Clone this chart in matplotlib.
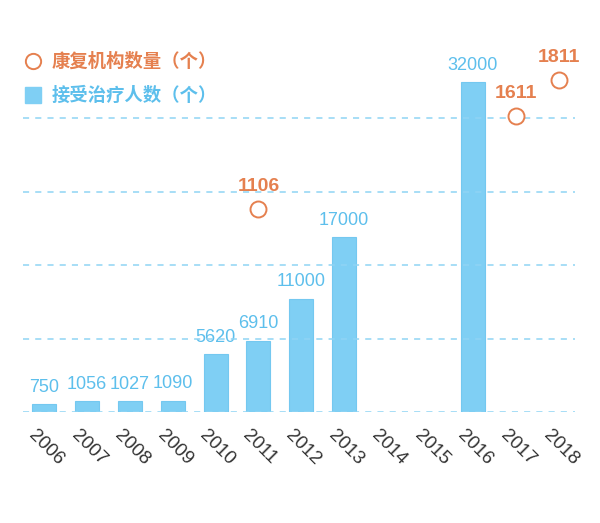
import matplotlib
matplotlib.use("Agg")
import matplotlib.pyplot as plt
from matplotlib.lines import Line2D

plt.rcParams['font.family'] = ['Noto Sans CJK SC', 'DejaVu Sans']

years = ['2006', '2007', '2008', '2009', '2010', '2011', '2012',
         '2013', '2014', '2015', '2016', '2017', '2018']
patients = [750, 1056, 1027, 1090, 5620, 6910, 11000, 17000, None, None, 32000, None, None]
institutions = [None, None, None, None, None, 1106, None, None, None, None, None, 1611, 1811]
grid_levels = [0, 400, 800, 1200, 1600]

BLUE = '#7FCFF4'
BLUE_TXT = '#5DBFEC'
ORANGE = '#E5804F'
GRID = '#8FD4F4'

W, H = 600, 523
fig = plt.figure(figsize=(W / 100, H / 100), dpi=100)
left_px, right_px, base_px, top_px = 23, 575, 412, 30
ax = fig.add_axes([left_px / W, (H - base_px) / H, (right_px - left_px) / W, (base_px - top_px) / H])
ax2 = ax.twinx()

bar_scale = 0.0103   # px per patient
circ_scale = 0.1835  # px per institution
span = base_px - top_px
ax.set_ylim(0, span / bar_scale)
ax2.set_ylim(0, span / circ_scale)
x = list(range(len(years)))
ax.set_xlim(-0.49, 12.38)

for g in grid_levels:
    ax2.axhline(g, color=GRID, lw=1.1, ls=(0, (4, 4)), zorder=0)

bx = [i for i, v in zip(x, patients) if v is not None]
bv = [v for v in patients if v is not None]
ax.bar(bx, bv, width=0.56, color=BLUE, edgecolor='#74C8F0', lw=0.8, zorder=2)
for i, v in zip(bx, bv):
    ax.annotate(str(v), (i, v), xytext=(0, 6), textcoords='offset points',
                ha='center', va='bottom', color=BLUE_TXT, fontsize=13,
                family=['Liberation Sans', 'DejaVu Sans'])

cx = [i for i, v in zip(x, institutions) if v is not None]
cv = [v for v in institutions if v is not None]
ax2.plot(cx, cv, ls='none', marker='o', ms=11.5, mfc='white', mec=ORANGE, mew=1.4, zorder=3)
for i, v in zip(cx, cv):
    ax2.annotate(str(v), (i, v), xytext=(0, 10), textcoords='offset points',
                 ha='center', va='bottom', color=ORANGE, fontsize=14, fontweight='bold',
                 family=['Liberation Sans', 'DejaVu Sans'])

for a in (ax, ax2):
    for s in a.spines.values():
        s.set_visible(False)
    a.tick_params(left=False, right=False, labelleft=False, labelright=False, bottom=False)
ax.set_xticks(x)
ax.set_xticklabels([])
for i, y in zip(x, years):
    ax.annotate(y, (i, 0), xytext=(-5, -11), textcoords='offset points',
                rotation=-45, rotation_mode='anchor', ha='left', va='top',
                color='#333333', fontsize=13.5, family=['Liberation Sans', 'DejaVu Sans'])

# legend
fig.add_artist(Line2D([33 / W], [1 - 61 / H], marker='o', ms=11, mfc='white', mec=ORANGE,
                      mew=1.4, ls='none', transform=fig.transFigure))
fig.text(52 / W, 1 - 61 / H, '康复机构数量（个）', color=ORANGE, fontsize=13.2,
         fontweight='bold', va='center', ha='left')
fig.add_artist(Line2D([33 / W], [1 - 95 / H], marker='s', ms=11, mfc=BLUE, mec=BLUE,
                      ls='none', transform=fig.transFigure))
fig.text(52 / W, 1 - 95 / H, '接受治疗人数（个）', color=BLUE_TXT, fontsize=13.2,
         fontweight='bold', va='center', ha='left')

fig.savefig('out.png', dpi=100)
